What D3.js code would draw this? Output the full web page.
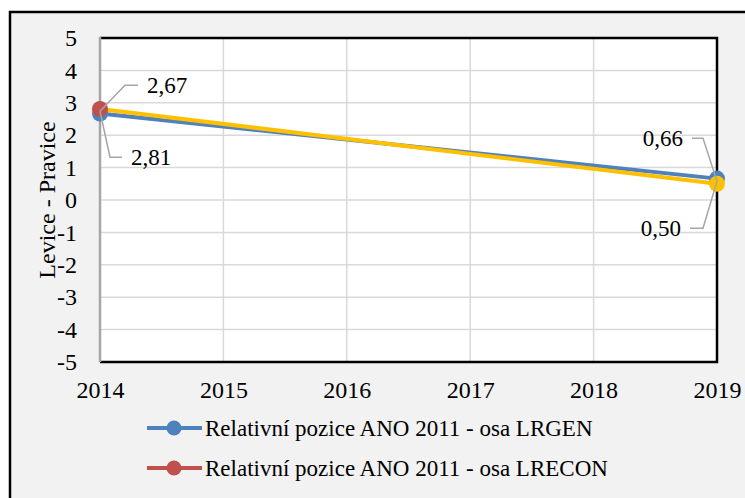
<!DOCTYPE html>
<html>
<head>
<meta charset="utf-8">
<script src="https://cdn.jsdelivr.net/npm/d3@7"></script>
<style>
  body { margin: 0; background: #fff; }
</style>
</head>
<body>
<svg id="chart" width="745" height="498"></svg>
<script>
var years = [2014, 2015, 2016, 2017, 2018, 2019]
var yTicks = [-5, -4, -3, -2, -1, 0, 1, 2, 3, 4, 5]
var seriesNames = ['Relativní pozice ANO 2011 - osa LRGEN', 'Relativní pozice ANO 2011 - osa LRECON']
var lrgen = [2.67, 0.66]
var lrecon = [2.81, 0.50]
var pointYears = [2014, 2019]
var lineColors = ['#4f81bd', '#ffc000']
var legendColors = ['#4f81bd', '#c0504d']
var markerColors = [['#4f81bd', '#4f81bd'], ['#c0504d', '#ffc000']]

var FONT = "'Liberation Serif'"
var svg = d3.select('#chart')
var fmt = (v) => v.toFixed(2).replace('.', ',')
var serif = (sel, size) => sel.style('font-family', FONT).style('font-size', size + 'px').style('fill', '#000')

// chart area background + outer frame (only left/top visible)
svg.append('rect').attr('x', 10).attr('y', 12).attr('width', 760).attr('height', 520)
  .attr('fill', '#f2f2f2').attr('stroke', '#000').attr('stroke-width', 2.5)

var x = d3.scaleLinear().domain([2014, 2019]).range([100, 717])
var y = d3.scaleLinear().domain([-5, 5]).range([362, 38])

svg.append('rect').attr('x', x(2014)).attr('y', y(5))
  .attr('width', x(2019) - x(2014)).attr('height', y(-5) - y(5)).attr('fill', '#fff')

// grid
svg.append('g').selectAll('line').data(yTicks).enter().append('line')
  .attr('x1', x(2014)).attr('x2', x(2019))
  .attr('y1', (d) => y(d)).attr('y2', (d) => y(d))
  .attr('stroke', '#d9d9d9').attr('stroke-width', 1.5)
svg.append('g').selectAll('line').data(years).enter().append('line')
  .attr('x1', (d) => x(d)).attr('x2', (d) => x(d))
  .attr('y1', y(5)).attr('y2', y(-5))
  .attr('stroke', '#d9d9d9').attr('stroke-width', 1.5)

// plot border: black top/right/bottom, grey y-axis line
svg.append('path')
  .attr('d', 'M' + x(2014) + ',' + y(5) + 'H' + x(2019) + 'V' + y(-5) + 'H' + x(2014))
  .attr('fill', 'none').attr('stroke', '#000').attr('stroke-width', 2.5)
svg.append('line').attr('x1', x(2014)).attr('x2', x(2014)).attr('y1', y(5) - 1).attr('y2', y(-5))
  .attr('stroke', '#a6a6a6').attr('stroke-width', 2.5)

// axes labels
var yAxis = d3.axisLeft(y).tickValues(yTicks).tickFormat((d) => String(d)).tickSize(0).tickPadding(23)
var gy = svg.append('g').attr('transform', 'translate(' + x(2014) + ',0)').call(yAxis)
gy.select('.domain').remove()
serif(gy.selectAll('text'), 24)

var xAxis = d3.axisBottom(x).tickValues(years).tickFormat(d3.format('d')).tickSize(0).tickPadding(19)
var gx = svg.append('g').attr('transform', 'translate(0,' + y(-5) + ')').call(xAxis)
gx.select('.domain').remove()
serif(gx.selectAll('text'), 24)

serif(svg.append('text').attr('transform', 'translate(55,' + y(0) + ') rotate(-90)')
  .attr('text-anchor', 'middle').text('Levice - Pravice'), 24)

// lines
var line = d3.line().x((d, i) => x(pointYears[i])).y((d) => y(d))
var data = [lrgen, lrecon]
data.forEach((s, k) => {
  svg.append('path').datum(s).attr('d', line)
    .attr('fill', 'none').attr('stroke', lineColors[k]).attr('stroke-width', 4)
})
data.forEach((s, k) => {
  svg.append('g').selectAll('circle').data(s).enter().append('circle')
    .attr('cx', (d, i) => x(pointYears[i])).attr('cy', (d) => y(d)).attr('r', 8)
    .attr('fill', (d, i) => markerColors[k][i])
})

// data labels with leader lines: elbow offset from point, horizontal run, text side
var labels = [
  { v: lrgen[0], i: 0, ex: 25, ey: -26, run: 13, side: 1 },
  { v: lrecon[0], i: 0, ex: 10, ey: 46, run: 12, side: 1 },
  { v: lrgen[1], i: 1, ex: -14, ey: -43, run: 11, side: -1 },
  { v: lrecon[1], i: 1, ex: -14, ey: 47, run: 13, side: -1 }
]
labels.forEach((l) => {
  var px = x(pointYears[l.i])
  var py = y((lrgen[l.i] + lrecon[l.i]) / 2)
  var bx = px + l.ex, by = py + l.ey
  var hx = bx + l.side * l.run
  svg.append('path')
    .attr('d', 'M' + px + ',' + py + 'L' + bx + ',' + by + 'H' + hx)
    .attr('fill', 'none').attr('stroke', '#a6a6a6').attr('stroke-width', 1.5)
  serif(svg.append('text').attr('x', hx + l.side * 9).attr('y', by + 8)
    .attr('text-anchor', l.side > 0 ? 'start' : 'end').text(fmt(l.v)), 23)
})

// legend
var legend = svg.append('g').selectAll('g').data(seriesNames).enter().append('g')
  .attr('transform', (d, i) => 'translate(147,' + (428 + i * 40) + ')')
legend.append('line').attr('x1', 0).attr('x2', 55)
  .attr('stroke', (d, i) => legendColors[i]).attr('stroke-width', 4)
legend.append('circle').attr('cx', 27).attr('r', 7.5).attr('fill', (d, i) => legendColors[i])
serif(legend.append('text').attr('x', 58).attr('y', 8).text((d) => d), 23)
</script>
</body>
</html>
